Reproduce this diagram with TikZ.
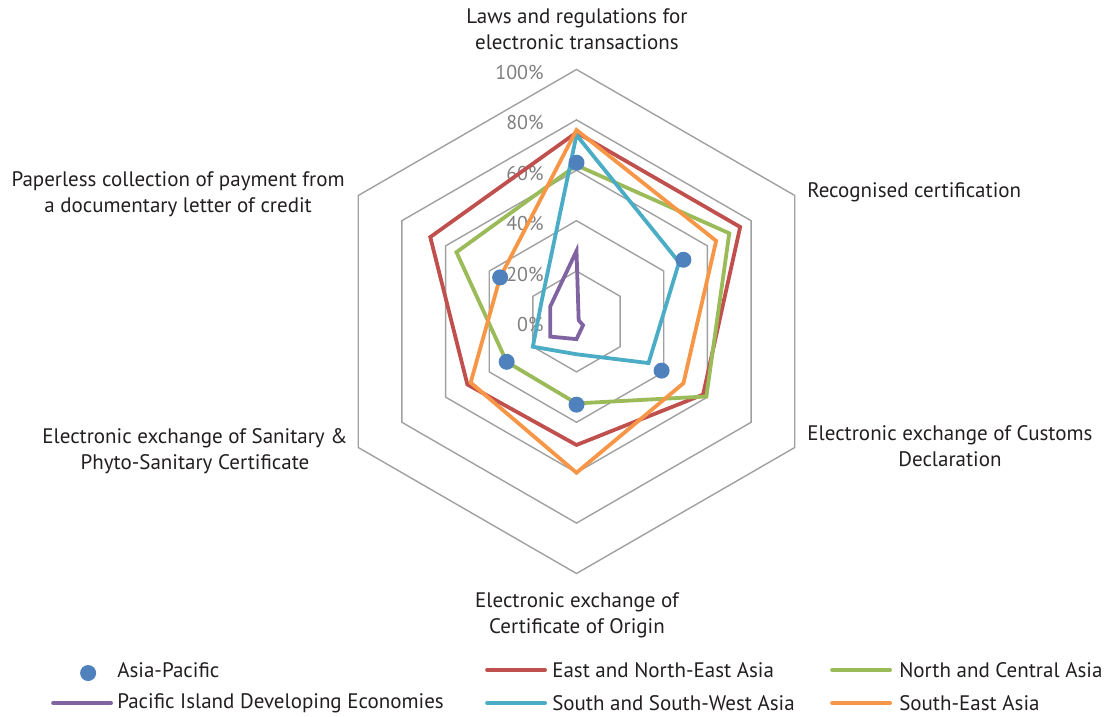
\documentclass[tikz,border=0pt]{standalone}
\usepackage{fontspec}
\setmainfont{PT Sans}
\usetikzlibrary{positioning}

\definecolor{gridgrey}{HTML}{A0A0A0}
\definecolor{ticktext}{HTML}{7F7F7F}
\definecolor{labeltext}{HTML}{231F20}
\definecolor{apblue}{HTML}{4F81BD}
\definecolor{enered}{HTML}{C0504D}
\definecolor{ncagreen}{HTML}{9BBB59}
\definecolor{pidepurple}{HTML}{8064A2}
\definecolor{sswcyan}{HTML}{4BACC6}
\definecolor{seorange}{HTML}{F79646}

\tikzset{
  grid ring/.style={draw=gridgrey, line width=1.4pt, line join=miter},
  series/.style={line width=3.8pt, line join=miter},
  legend key/.style={line width=3.8pt, line cap=round},
  tick label/.style={text=ticktext, font=\fontsize{20}{22}\selectfont, anchor=east, inner sep=0pt},
  axis label/.style={text=labeltext, font=\fontsize{21}{26}\selectfont, align=center, inner sep=0pt},
  legend text/.style={text=labeltext, font=\fontsize{21}{24}\selectfont, anchor=west, inner sep=0pt},
  ap dot/.style={circle, fill=apblue, minimum size=16pt, inner sep=0pt},
}

\begin{document}
\begin{tikzpicture}[x=2.52pt, y=2.52pt]
 \useasboundingbox (-228.77,-156.55) rectangle (210.91,127.58);

 % grid rings, 20% steps
 \foreach \r in {20,40,...,100}
   \draw[grid ring] (90:\r) -- (30:\r) -- (-30:\r) -- (-90:\r) -- (-150:\r) -- (150:\r) -- cycle;

 \foreach \v in {0,20,...,100}
   \node[tick label] (tick-\v) at (-13,\v-1.2) {\v\%};

 % axis labels
 \node[axis label]            (lbl-laws)      at (0.2,116.1)   {Laws and regulations for\\electronic transactions};
 \node[axis label,anchor=west](lbl-cert)      at (91.5,51.4)   {Recognised certification};
 \node[axis label]            (lbl-customs)   at (148.2,-49.4) {Electronic exchange of Customs\\Declaration};
 \node[axis label]            (lbl-origin)    at (0.2,-116.5)  {Electronic exchange of\\Certificate of Origin};
 \node[axis label]            (lbl-sps)       at (-151.4,-51.4){Electronic exchange of Sanitary \&\\Phyto-Sanitary Certificate};
 \node[axis label]            (lbl-paperless) at (-158.1,50.6) {Paperless collection of payment from\\a documentary letter of credit};

 % regional series
 \foreach \sercol/\a/\b/\c/\d/\e/\f in {enered/75/75/58/49/50/67,
                                        ncagreen/62/70/59.5/32.5/32/55,
                                        pidepurple/28/1/3/7/12/12,
                                        sswcyan/74/47/33/13/20/16,
                                        seorange/76/64/49/60/48.5/35}
   \draw[series,\sercol] (90:\a) -- (30:\b) -- (-30:\c) -- (-90:\d) -- (-150:\e) -- (150:\f) -- cycle;

 % Asia-Pacific markers
 \foreach \ang/\v [count=\i] in {90/63,30/49,-30/39,-90/33,-150/32,150/35}
   \node[ap dot] (ap-\i) at (\ang:\v) {};

 % legend
 \node[ap dot]      (key-ap)   at (-193.8,-139.5) {};
 \node[legend text] (lg-ap)    at (-182.3,-138.3) {Asia-Pacific};
 \node[legend text] (lg-pide)  at (-182.3,-151.4) {Pacific Island Developing Economies};
 \node[legend text] (lg-ene)   at (-9.7,-138.3)   {East and North-East Asia};
 \node[legend text] (lg-ssw)   at (-9.7,-151.4)   {South and South-West Asia};
 \node[legend text] (lg-nca)   at (128.0,-138.3)  {North and Central Asia};
 \node[legend text] (lg-se)    at (128.0,-151.4)  {South-East Asia};

 \draw[legend key,pidepurple] ([xshift=-6pt]lg-pide.west) -- ++(-58pt,0);
 \draw[legend key,enered]     ([xshift=-7pt]lg-ene.west)  -- ++(-58pt,0);
 \draw[legend key,sswcyan]    ([xshift=-7pt]lg-ssw.west)  -- ++(-58pt,0);
 \draw[legend key,ncagreen]   ([xshift=-9pt]lg-nca.west)  -- ++(-58pt,0);
 \draw[legend key,seorange]   ([xshift=-9pt]lg-se.west)   -- ++(-58pt,0);
\end{tikzpicture}
\end{document}
